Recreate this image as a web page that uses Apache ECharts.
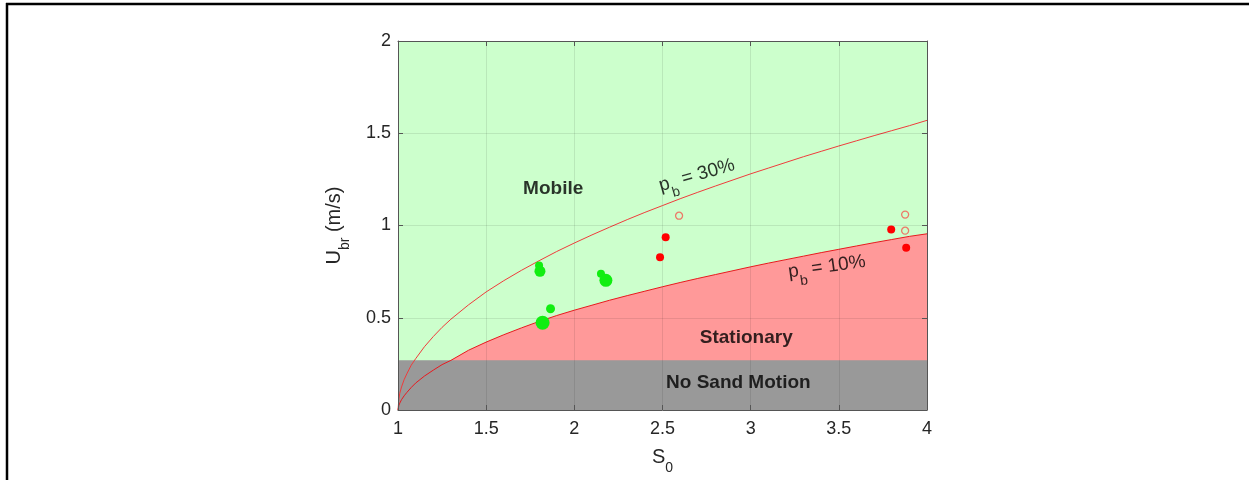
<!DOCTYPE html>
<html>
<head>
<meta charset="utf-8">
<script src="https://cdn.jsdelivr.net/npm/echarts@6/dist/echarts.min.js"></script>
<style>
html,body{margin:0;padding:0;background:#fff;}
#chart{width:1249px;height:480px;}
</style>
</head>
<body>
<div id="chart"></div>
<script>
// ---- data ----
const curveS = [1, 1.005, 1.01, 1.02, 1.035, 1.05, 1.075, 1.1, 1.15, 1.2, 1.25, 1.3, 1.4, 1.5, 1.6, 1.7, 1.8, 1.9,
                2, 2.1, 2.2, 2.3, 2.4, 2.5, 2.6, 2.7, 2.8, 2.9, 3, 3.1, 3.2, 3.3, 3.4, 3.5, 3.6, 3.7, 3.8, 3.9, 4];
const pb30 = [0, 0.06, 0.09, 0.125, 0.165, 0.196, 0.243, 0.278, 0.343, 0.398, 0.448, 0.492, 0.570, 0.640, 0.701, 0.757, 0.809, 0.859,
              0.905, 0.949, 0.991, 1.032, 1.071, 1.108, 1.145, 1.180, 1.214, 1.247, 1.280, 1.311, 1.342, 1.373, 1.402, 1.431, 1.459, 1.487, 1.514, 1.541, 1.570];
const pb10 = [0, 0.025, 0.037, 0.056, 0.077, 0.095, 0.122, 0.146, 0.184, 0.216, 0.246, 0.269, 0.324, 0.368, 0.408, 0.445, 0.480, 0.512,
              0.541, 0.568, 0.595, 0.620, 0.644, 0.668, 0.691, 0.713, 0.734, 0.755, 0.776, 0.796, 0.815, 0.834, 0.853, 0.871, 0.889, 0.907, 0.924, 0.941, 0.955];
const noMotionS = [1, 4];
const noMotionU = [0.27, 0.27];

const greenS = [1.800, 1.805, 1.865, 1.820, 2.151, 2.179];
const greenU = [0.783, 0.752, 0.549, 0.473, 0.738, 0.703];
const greenSizes = [8, 11, 9, 14, 8, 13];

const redFilledS = [2.486, 2.518, 3.797, 3.882];
const redFilledU = [0.828, 0.936, 0.978, 0.880];

const redOpenS = [2.594, 3.876, 3.876];
const redOpenU = [1.053, 1.059, 0.972];

const xTicks = {min: 1, max: 4, interval: 0.5};
const yTicks = {min: 0, max: 2, interval: 0.5};

const regionLabels = ['Mobile', 'Stationary', 'No Sand Motion'];
const regionLabelS = [1.88, 2.975, 2.93];
const regionLabelU = [1.197, 0.393, 0.150];

const curveLabels = ['30%', '10%'];
const curveLabelS = [2.697, 3.433];
const curveLabelU = [1.264, 0.767];
const curveLabelRot = [16, 8];

// ---- chart ----
const zip = (a, b) => a.map((v, i) => [v, b[i]]);
const FONT = 'Liberation Sans, Arial, sans-serif';
const txt = '#262626';

const axisCommon = {
  type: 'value',
  axisLine: {show: true, onZero: false, lineStyle: {color: '#555555', width: 1}},
  axisTick: {show: true, inside: true, length: 5, lineStyle: {color: '#555555'}},
  z: 5
};

const chart = echarts.init(document.getElementById('chart'), null, {renderer: 'canvas'});
chart.setOption({
  animation: false,
  backgroundColor: '#ffffff',
  grid: {left: 398, top: 41, width: 529, height: 370, show: true, backgroundColor: '#ccffcc', borderWidth: 0},
  xAxis: [
    Object.assign({}, axisCommon, {
      position: 'bottom', min: xTicks.min, max: xTicks.max, interval: xTicks.interval,
      axisLabel: {color: txt, fontSize: 18, fontFamily: FONT, margin: 10},
      splitLine: {show: true, lineStyle: {color: 'rgba(0,0,0,0.09)', width: 1}},
      name: '{m|S}{s|0}', nameLocation: 'middle', nameGap: 37,
      nameTextStyle: {fontFamily: FONT, color: txt, rich: {
        m: {fontSize: 20, fontFamily: FONT, color: txt, lineHeight: 22, verticalAlign: 'top'},
        s: {fontSize: 14, fontFamily: FONT, color: txt, lineHeight: 22, padding: [14, 0, 0, 0], verticalAlign: 'top'}
      }}
    }),
    Object.assign({}, axisCommon, {
      position: 'top', min: xTicks.min, max: xTicks.max, interval: xTicks.interval,
      axisLabel: {show: false}, splitLine: {show: false}
    })
  ],
  yAxis: [
    Object.assign({}, axisCommon, {
      position: 'left', min: yTicks.min, max: yTicks.max, interval: yTicks.interval,
      axisLabel: {color: txt, fontSize: 18, fontFamily: FONT, margin: 7},
      splitLine: {show: true, lineStyle: {color: 'rgba(0,0,0,0.09)', width: 1}},
      name: '{m|U}{s|br}{m| (m/s)}', nameLocation: 'middle', nameGap: 52, nameRotate: 90,
      nameTextStyle: {fontFamily: FONT, color: txt, rich: {
        m: {fontSize: 20, fontFamily: FONT, color: txt, lineHeight: 22, verticalAlign: 'top'},
        s: {fontSize: 14, fontFamily: FONT, color: txt, lineHeight: 22, padding: [14, 0, 0, 0], verticalAlign: 'top'}
      }}
    }),
    Object.assign({}, axisCommon, {
      position: 'right', min: yTicks.min, max: yTicks.max, interval: yTicks.interval,
      axisLabel: {show: false}, splitLine: {show: false}
    })
  ],
  graphic: [
    {type: 'line', shape: {x1: 6, y1: 4, x2: 1249, y2: 4}, style: {stroke: '#000', lineWidth: 2.5}, z: 100},
    {type: 'line', shape: {x1: 7, y1: 3, x2: 7, y2: 480}, style: {stroke: '#000', lineWidth: 2.5}, z: 100}
  ],
  series: [
    {
      type: 'line', name: 'stationary', data: zip(curveS, pb10), showSymbol: false, symbol: 'none', smooth: false,
      lineStyle: {width: 0}, areaStyle: {color: '#ff9999', opacity: 1, origin: 'start'}, z: 1
    },
    {
      type: 'line', name: 'no motion', data: zip(noMotionS, noMotionU), symbol: 'none',
      lineStyle: {width: 0}, areaStyle: {color: '#999999', opacity: 1, origin: 'start'}, z: 2
    },
    {
      type: 'line', name: 'pb10', data: zip(curveS, pb10), symbol: 'none', smooth: false,
      lineStyle: {color: '#e8191e', width: 1}, z: 3
    },
    {
      type: 'line', name: 'pb30', data: zip(curveS, pb30), symbol: 'none', smooth: false,
      lineStyle: {color: '#ef3b3b', width: 1}, z: 3
    },
    {
      type: 'scatter', name: 'green', data: zip(greenS, greenU),
      symbolSize: (v, p) => greenSizes[p.dataIndex],
      itemStyle: {color: '#11ee11', opacity: 1}, z: 10
    },
    {
      type: 'scatter', name: 'redFilled', data: zip(redFilledS, redFilledU), symbolSize: 8,
      itemStyle: {color: '#ff0000', opacity: 1}, z: 10
    },
    {
      type: 'scatter', name: 'redOpen', data: zip(redOpenS, redOpenU), symbol: 'circle', symbolSize: 7,
      itemStyle: {color: 'rgba(0,0,0,0)', borderColor: '#ec7a68', borderWidth: 1.3, opacity: 1}, z: 10
    },
    {
      type: 'scatter', name: 'regionLabels', silent: true, symbolSize: 0,
      data: regionLabels.map((t, i) => ({value: [regionLabelS[i], regionLabelU[i]], name: t})),
      label: {show: true, position: 'inside', formatter: p => p.name, color: '#000', fontSize: 19,
              fontWeight: 'bold', fontFamily: FONT},
      z: 20
    },
    {
      type: 'scatter', name: 'curveLabels', silent: true, symbolSize: 0,
      data: curveLabels.map((t, i) => ({
        value: [curveLabelS[i], curveLabelU[i]], name: t,
        label: {rotate: curveLabelRot[i]}
      })),
      label: {show: true, position: 'inside', formatter: p => '{m|p}{s|b}{m| = ' + p.name + '}',
              color: '#000', fontFamily: FONT,
              rich: {
                m: {fontSize: 19, fontFamily: FONT, color: '#000', lineHeight: 22, verticalAlign: 'top'},
                s: {fontSize: 14, fontFamily: FONT, color: '#000', lineHeight: 22, padding: [13, 0, 0, 0], verticalAlign: 'top'}
              }},
      z: 20
    }
  ]
});
</script>
</body>
</html>
